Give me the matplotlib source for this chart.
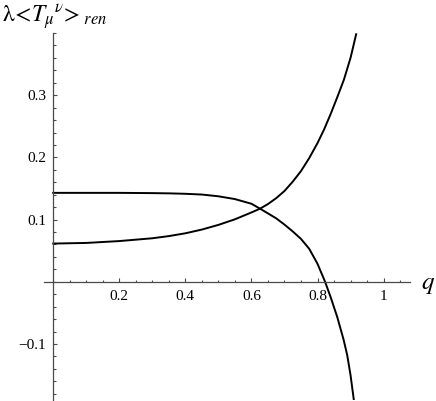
import matplotlib
matplotlib.use("Agg")
import matplotlib.pyplot as plt
from matplotlib.ticker import MultipleLocator, FixedLocator, FuncFormatter

plt.rcParams['mathtext.fontset'] = 'stix'
plt.rcParams['font.family'] = ['Liberation Serif', 'DejaVu Serif']

# Curve A: flat ~0.143, falling through zero near q=0.82
q_a = [0.0, 0.1, 0.2, 0.3, 0.35, 0.4, 0.45, 0.5, 0.55, 0.6, 0.626, 0.65, 0.675, 0.7, 0.725,
       0.75, 0.775, 0.8, 0.823, 0.84, 0.86, 0.879, 0.89, 0.9, 0.91]
a = [0.143, 0.143, 0.143, 0.1426, 0.1422, 0.1415, 0.1403, 0.1375, 0.133, 0.1255, 0.1176, 0.110, 0.102, 0.092, 0.081,
     0.069, 0.053, 0.029, 0.0, -0.025, -0.057, -0.093, -0.118, -0.150, -0.19]

# Curve B: starting ~0.062, rising steeply
q_b = [0.0, 0.1, 0.2, 0.3, 0.35, 0.4, 0.45, 0.5, 0.55, 0.6, 0.626, 0.65, 0.675, 0.7, 0.725,
       0.75, 0.775, 0.8, 0.82, 0.84, 0.86, 0.88, 0.9, 0.917]
b = [0.0615, 0.0625, 0.0655, 0.0700, 0.0735, 0.0780, 0.0840, 0.0915, 0.1005, 0.1115, 0.1176, 0.1250, 0.1345, 0.1460, 0.1610,
     0.1780, 0.1990, 0.2230, 0.2450, 0.2700, 0.2970, 0.3250, 0.3600, 0.3980]

x_major = [0.2, 0.4, 0.6, 0.8, 1.0]
y_major = [-0.1, 0.1, 0.2, 0.3]

W, H = 436, 401
fig = plt.figure(figsize=(W / 100, H / 100), dpi=100)
left, right, top, bottom = 44.3, 410.0, 33.0, 400.0
ax = fig.add_axes([left / W, (H - bottom) / H, (right - left) / W, (bottom - top) / H])

ax.plot(q_a, a, color='black', lw=1.4, solid_joinstyle='round')
ax.plot(q_b, b, color='black', lw=1.4, solid_joinstyle='round')

ax.set_xlim(-0.027, 1.08)
ax.set_ylim(-0.19, 0.4)

for s in ['top', 'right']:
    ax.spines[s].set_visible(False)
ax.spines['left'].set_position(('data', 0))
ax.spines['bottom'].set_position(('data', 0))
axis_col = '#4a4a4a'
for s in ['left', 'bottom']:
    ax.spines[s].set_color(axis_col)
    ax.spines[s].set_linewidth(0.9)

ax.xaxis.set_major_locator(FixedLocator(x_major))
ax.xaxis.set_minor_locator(MultipleLocator(0.05))
ax.yaxis.set_major_locator(FixedLocator(y_major))
ax.yaxis.set_minor_locator(MultipleLocator(0.02))

fmt = FuncFormatter(lambda v, p: ('\u2212' if v < 0 else '') + ('%g' % abs(round(v, 3))))
ax.xaxis.set_major_formatter(fmt)
ax.yaxis.set_major_formatter(fmt)

ax.tick_params(which='both', direction='in', color=axis_col, width=0.8, labelsize=11)
ax.tick_params(which='major', length=3)
ax.tick_params(which='minor', length=1.8)
ax.tick_params(axis='x', pad=6)
ax.tick_params(axis='y', pad=5)
ax.patch.set_visible(False)

fig.text(2 / W, 1 - 22 / H, r'$\mathrm{\lambda}\!<\!T_{\mu}{}^{\nu}\!>_{ren}$', fontsize=17, ha='left', va='baseline')
fig.text(421 / W, 1 - 285 / H, r'$q$', fontsize=18, ha='left', va='center')

fig.savefig('out.png', dpi=100)
